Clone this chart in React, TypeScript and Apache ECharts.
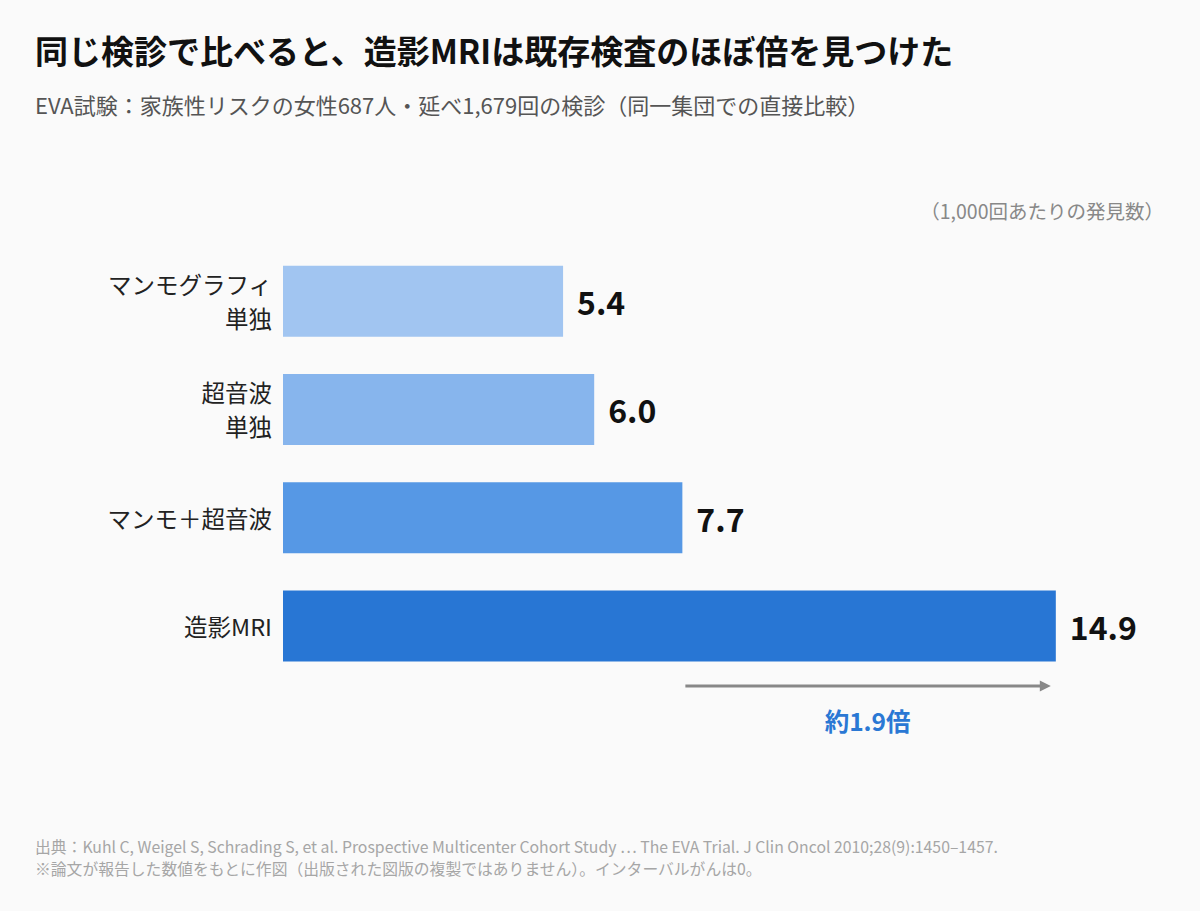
import React, { useEffect, useRef } from 'react';
import * as echarts from 'echarts';

const categories = ['マンモグラフィ\n単独', '超音波\n単独', 'マンモ＋超音波', '造影MRI'];
const values = [5.4, 6.0, 7.7, 14.9];
const barColors = ['#a1c5f1', '#87b5ed', '#5698e5', '#2876d4'];
const compareFrom = 7.7;
const compareTo = 14.9;
const ratioLabel = '約1.9倍';

const titleText = '同じ検診で比べると、造影MRIは既存検査のほぼ倍を見つけた';
const subtitleText = 'EVA試験：家族性リスクの女性687人・延べ1,679回の検診（同一集団での直接比較）';
const unitText = '（1,000回あたりの発見数）';
const sourceLines = [
  '出典：Kuhl C, Weigel S, Schrading S, et al. Prospective Multicenter Cohort Study … The EVA Trial. J Clin Oncol 2010;28(9):1450–1457.',
  '※論文が報告した数値をもとに作図（出版された図版の複製ではありません）。インターバルがんは0。',
];

const FONT = '"Noto Sans CJK JP", "Noto Sans", sans-serif';

const App: React.FC = () => {
  const chartRef = useRef<HTMLDivElement>(null);

  useEffect(() => {
    document.body.style.margin = '0';
    if (!chartRef.current) return;
    const chart = echarts.init(chartRef.current, null, { renderer: 'svg' });

    const option = {
      animation: false,
      backgroundColor: '#fafafa',
      textStyle: { fontFamily: FONT },
      title: [
        {
          text: titleText,
          left: 35,
          top: 33,
          padding: 0,
          textStyle: { fontFamily: FONT, fontSize: 33, fontWeight: 'bold', color: '#111' },
        },
        {
          text: subtitleText,
          left: 35,
          top: 93,
          padding: 0,
          textStyle: { fontFamily: FONT, fontSize: 22, fontWeight: 'normal', color: '#555' },
        },
        {
          text: unitText,
          right: 36,
          top: 201,
          padding: 0,
          textStyle: { fontFamily: FONT, fontSize: 19.5, fontWeight: 'normal', color: '#888' },
        },
        ...sourceLines.map((line, i) => ({
          text: line,
          left: 35,
          top: 839 + i * 22,
          padding: 0,
          textStyle: { fontFamily: FONT, fontSize: 15.8, fontWeight: 'normal', color: '#a6a6a6' },
        })),
      ],
      grid: { left: 283, top: 247, width: 778, height: 433, containLabel: false },
      xAxis: { type: 'value', min: 0, max: 15, show: false },
      yAxis: {
        type: 'category',
        data: categories,
        inverse: true,
        axisLine: { show: false },
        axisTick: { show: false },
        axisLabel: { margin: 11, fontSize: 23.5, color: '#222', lineHeight: 34, fontFamily: FONT },
      },
      series: [
        {
          type: 'bar',
          barWidth: 71,
          data: values.map((v, i) => ({ value: v, itemStyle: { color: barColors[i] } })),
          label: {
            show: true,
            position: 'right',
            distance: 14,
            fontSize: 32,
            fontWeight: 'bold',
            color: '#111',
            fontFamily: FONT,
            formatter: (p: any) => Number(p.value).toFixed(1),
          },
        },
      ],
    };
    chart.setOption(option);

    const x1 = chart.convertToPixel({ xAxisIndex: 0 }, compareFrom) + 3;
    const x2 = chart.convertToPixel({ xAxisIndex: 0 }, compareTo) - 6;
    const yMri = chart.convertToPixel({ yAxisIndex: 0 }, categories.length - 1);
    const yArrow = yMri + 60;

    chart.setOption({
      graphic: [
        {
          type: 'line',
          shape: { x1, y1: yArrow, x2: x2 - 8, y2: yArrow },
          style: { stroke: '#888', lineWidth: 3 },
        },
        {
          type: 'polygon',
          shape: { points: [[x2 - 10, yArrow - 5.5], [x2 + 1, yArrow], [x2 - 10, yArrow + 5.5]] },
          style: { fill: '#888' },
        },
        {
          type: 'text',
          x: (x1 + x2) / 2,
          y: yArrow + 35,
          style: {
            text: ratioLabel,
            fontFamily: FONT,
            fontSize: 24.5,
            fontWeight: 'bold',
            fill: '#2a78d4',
            align: 'center',
            verticalAlign: 'middle',
          },
        },
      ],
    });

    return () => {
      chart.dispose();
    };
  }, []);

  return <div ref={chartRef} style={{ width: 1200, height: 911 }} />;
};

export default App;
